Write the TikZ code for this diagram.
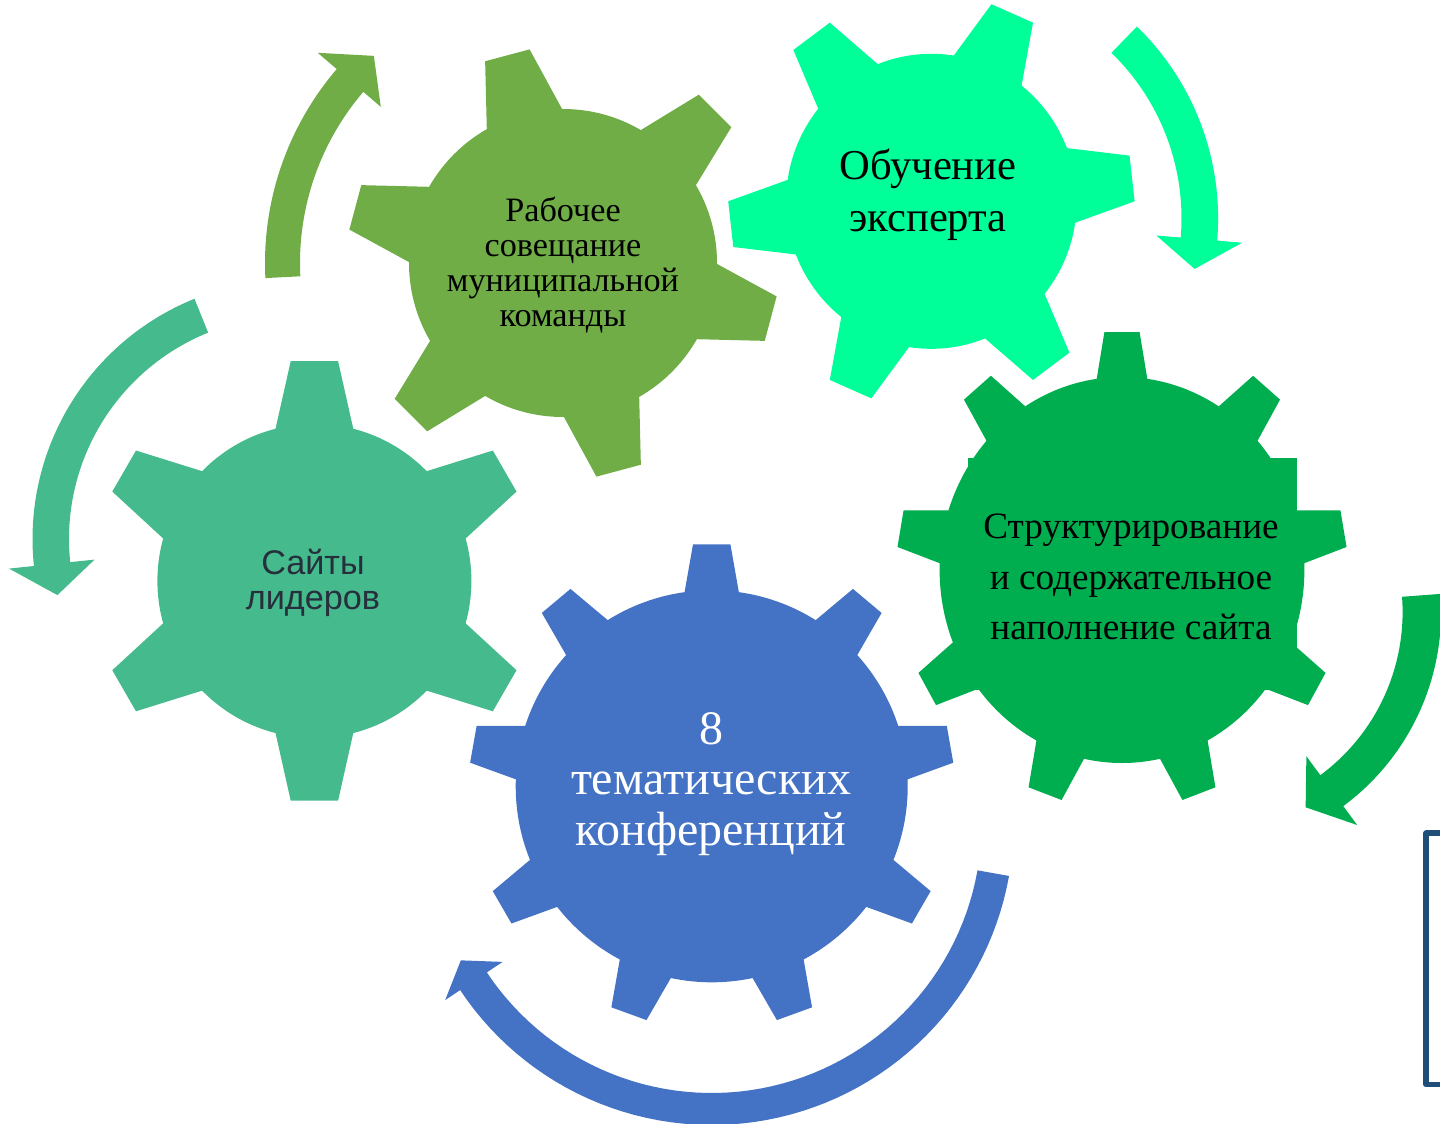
\documentclass[tikz,border=0pt]{standalone}
\usepackage{fontspec}
\setmainfont{Liberation Serif}
\newfontfamily\sansf{Liberation Sans}
\definecolor{gOlive}{HTML}{70AD47}
\definecolor{gMint}{HTML}{00FF99}
\definecolor{gTeal}{HTML}{45BA8D}
\definecolor{gGreen}{HTML}{00AE50}
\definecolor{gBlue}{HTML}{4472C4}
\definecolor{boxBlue}{HTML}{1F4E79}
\definecolor{txtDark}{HTML}{262F3B}
% one trapezoid tooth: angle, inner dist, inner half width, tip radius, tip half width
\newcommand{\gtooth}[5]{\fill[rotate=#1] (#2,-#3) -- (#4,-#5) -- (#4,#5) -- (#2,#3) -- cycle;}
% circular arrow: cx, cy, rin, rout, start angle, head angle, wing in, wing out, tip angle
\newcommand{\carrow}[9]{%
  \fill ({#1+#4*cos(#5)},{#2+#4*sin(#5)})
    -- plot[domain=#5:#6, samples=60] ({#1+#4*cos(\x)},{#2+#4*sin(\x)})
    -- ({#1+#8*cos(#6)},{#2+#8*sin(#6)})
    -- ({#1+(#3+#4)/2*cos(#9)},{#2+(#3+#4)/2*sin(#9)})
    -- ({#1+#7*cos(#6)},{#2+#7*sin(#6)})
    -- plot[domain=#6:#5, samples=60] ({#1+#3*cos(\x)},{#2+#3*sin(\x)})
    -- cycle;}
\tikzset{
  geartext/.style={align=center, text=black, inner sep=0pt},
}
\begin{document}
\begin{tikzpicture}[x=0.5pt, y=-0.5pt]
\useasboundingbox (0,0) rectangle (1440,1124);
\clip (0,0) rectangle (1440,1124);
% ---------- curved arrows ----------
\begin{scope}[gOlive]\carrow{563}{263}{263}{298}{177.1}{220.6}{240}{323}{227.6}\end{scope}
\begin{scope}[gMint]\carrow{951.1}{218.3}{230.4}{267}{-45.9}{4.8}{206}{292}{11.75}\end{scope}
\begin{scope}[gTeal]\carrow{291.5}{538.9}{222.5}{259}{248}{174}{198}{284}{166.5}\end{scope}
\begin{scope}[gGreen]\carrow{1199.6}{612}{203}{241.5}{-4.3}{53.5}{179.5}{265}{61.5}\end{scope}
\begin{scope}[gBlue]\carrow{711.7}{823}{270}{302}{10.1}{146.4}{251}{320}{151.3}\end{scope}
% ---------- gears ----------
\begin{scope}[shift={(563,263)}, gOlive]
  \fill (0,0) circle (154);
  \foreach \a in {45,105,165,225,285,345} {\gtooth{\a}{129}{43.8}{215}{23}}
\end{scope}
\begin{scope}[shift={(931.4,201.3)}, xscale=0.985, gMint]
  \fill (0,0) circle (147.5);
  \foreach \a in {6.4,66.4,126.4,186.4,246.4,306.4} {\gtooth{\a}{122.7}{42.2}{205}{23}}
\end{scope}
\begin{scope}[shift={(314.4,580.9)}, gTeal]
  \fill (0,0) circle (157);
  \foreach \a in {30,90,150,210,270,330} {\gtooth{\a}{132}{43.4}{219.7}{23.7}}
\end{scope}
\begin{scope}[shift={(1122,570)}, xscale=0.945, gGreen]
  \fill (0,0) circle (193);
  \foreach \a in {90,130,170,210,250,290,330,10,50} {\gtooth{\a}{171}{30.3}{238}{18.6}}
\end{scope}
\fill[gGreen] (968,457.7) rectangle (1297,690);
\begin{scope}[shift={(711.7,786.3)}, gBlue]
  \fill (0,0) circle (196);
  \foreach \a in {90,130,170,210,250,290,330,10,50} {\gtooth{\a}{174}{30.7}{242}{18.7}}
\end{scope}
% ---------- texts ----------
\node[geartext, font=\fontsize{17.1pt}{17.6pt}\selectfont] (t1) at (563,265)
  {Рабочее\\совещание\\муниципальной\\команды};
\node[geartext, font=\fontsize{21.3pt}{26pt}\selectfont] (t2) at (928,195)
  {Обучение\\эксперта};
\node[geartext, text=txtDark, font=\sansf\fontsize{17.1pt}{17.8pt}\selectfont] (t3) at (313,583)
  {Сайты\\лидеров};
\node[geartext, font=\fontsize{18.6pt}{25.4pt}\selectfont] (t4) at (1131,577)
  {Структурирование\\и содержательное\\наполнение сайта};
\node[geartext, text=white, font=\fontsize{24pt}{25.4pt}\selectfont] (t5) at (711,784)
  {8\\тематических\\конференций};
% ---------- frame at the right edge ----------
\draw[boxBlue, line width=2.9pt, line join=round] (1426.3,833.3) rectangle (1480,1084.5);
\end{tikzpicture}
\end{document}
